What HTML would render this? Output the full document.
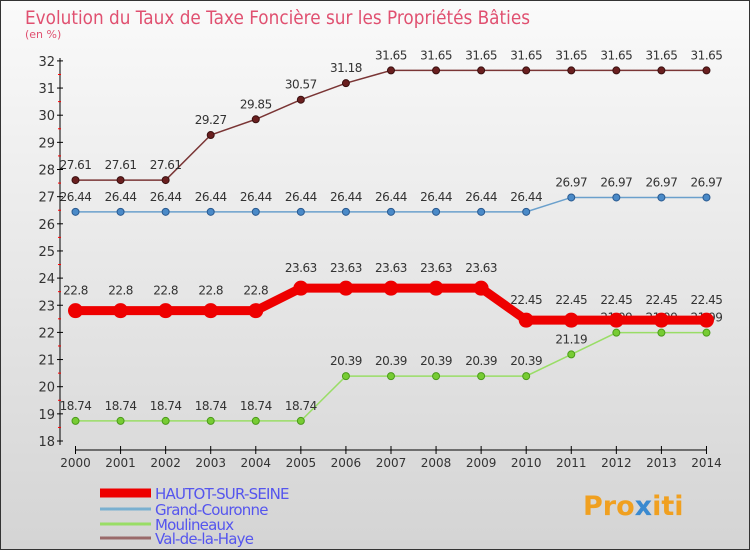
<!DOCTYPE html>
<html><head><meta charset="utf-8"><style>
body{margin:0}
#c{width:750px;height:550px;position:relative;font-family:"DejaVu Sans","Liberation Sans",sans-serif}
</style></head><body>
<div id="c">
<svg id="s" width="750" height="550" xmlns="http://www.w3.org/2000/svg">
<defs><linearGradient id="bg" x1="0" y1="0" x2="0" y2="1"><stop offset="0" stop-color="#fafafa"/><stop offset="1" stop-color="#d4d4d4"/></linearGradient></defs>
<rect x="0.5" y="0.5" width="749" height="549" fill="url(#bg)" stroke="#333" stroke-width="1"/>
<text x="25" y="24" font-size="19" fill="#e05070" font-family="DejaVu Sans, sans-serif" textLength="505" lengthAdjust="spacingAndGlyphs">Evolution du Taux de Taxe Foncière sur les Propriétés Bâties</text>
<text x="25" y="38" font-size="11" fill="#e05070">(en %)</text>
<g id="axes"></g><g id="series"></g><g id="legend"></g>
<text x="583" y="515" font-size="27" font-weight="bold" fill="#f0a020" font-family="DejaVu Sans, sans-serif">Pro<tspan fill="#3a8ad0">x</tspan>iti</text>
</svg></div>
<script>
const years=[2000,2001,2002,2003,2004,2005,2006,2007,2008,2009,2010,2011,2012,2013,2014];
const yTicks=[18,19,20,21,22,23,24,25,26,27,28,29,30,31,32];
const seriesNames=["HAUTOT-SUR-SEINE","Grand-Couronne","Moulineaux","Val-de-la-Haye"];
const hautot=[22.8,22.8,22.8,22.8,22.8,23.63,23.63,23.63,23.63,23.63,22.45,22.45,22.45,22.45,22.45];
const hautotLabels=["22.8","22.8","22.8","22.8","22.8","23.63","23.63","23.63","23.63","23.63","22.45","22.45","22.45","22.45","22.45"];
const grand=[26.44,26.44,26.44,26.44,26.44,26.44,26.44,26.44,26.44,26.44,26.44,26.97,26.97,26.97,26.97];
const moul=[18.74,18.74,18.74,18.74,18.74,18.74,20.39,20.39,20.39,20.39,20.39,21.19,21.99,21.99,21.99];
const valh=[27.61,27.61,27.61,29.27,29.85,30.57,31.18,31.65,31.65,31.65,31.65,31.65,31.65,31.65,31.65];
const NS="http://www.w3.org/2000/svg";
const X=i=>75.5+i*45.07, Y=v=>441-(v-18)*27.15;
function mk(t,a,p){const e=document.createElementNS(NS,t);for(const k in a)e.setAttribute(k,a[k]);p.appendChild(e);return e;}
const ax=document.getElementById('axes');
let e=mk('line',{x1:60,y1:58,x2:60,y2:445,stroke:'#000'},ax);


yTicks.forEach(v=>{mk('line',{x1:57,x2:63,y1:Y(v),y2:Y(v),stroke:'#000'},ax);
 if(v<32)mk('line',{x1:58,x2:61,y1:Y(v+0.5),y2:Y(v+0.5),stroke:'#f00'},ax);
 const t=mk('text',{x:55,y:Y(v)+5,'font-size':13,fill:'#333','text-anchor':'end'},ax);t.textContent=v;
 
 });
e=mk('line',{x1:X(0),y1:450,x2:X(14),y2:450,stroke:'#000'},ax);


years.forEach((y,i)=>{mk('line',{x1:X(i),x2:X(i),y1:446,y2:454,stroke:'#000'},ax);
 const t=mk('text',{x:X(i),y:467,'font-size':12,fill:'#333','text-anchor':'middle'},ax);t.textContent=y;
 
 });
const sg=document.getElementById('series');
function draw(vals,labels,color,w,r,name,ptFill,ptStroke,dy){
 const g=mk('g',{},sg);
 
 
 mk('polyline',{points:vals.map((v,i)=>X(i)+','+Y(v)).join(' '),fill:'none',stroke:color,'stroke-width':w},g);
 vals.forEach((v,i)=>{const c=mk('circle',{cx:X(i),cy:Y(v),r:r,fill:ptFill,stroke:ptStroke},g);
  
  
  const t=mk('text',{x:X(i),y:Y(v)-dy,'font-size':12,fill:'#333','text-anchor':'middle','letter-spacing':'-0.5'},g);
  t.textContent=labels?labels[i]:String(v);
  
  });
}
draw(valh,null,'#7a3535',1.5,3.5,'series-val-de-la-haye','#6a1f1f','#3a1010',11);
draw(grand,null,'#6aa0cc',1.5,3.5,'series-grand-couronne','#4a8ac8','#2a5a90',11);
draw(moul,null,'#99dd66',1.5,3.5,'series-moulineaux','#77cc33','#4a9a1a',11);
draw(hautot,hautotLabels,'#ee0000',9,7,'series-hautot-sur-seine','#ee0000','#ee0000',16);
const lg=document.getElementById('legend');
const lc=['#ee0000','#7ab0d0','#99dd66','#9a6a6a'],lw=[9,3,3,3],ly=[493,509,524,538];
seriesNames.forEach((n,i)=>{const g=mk('g',{},lg);
 
 
 mk('line',{x1:100,x2:151,y1:ly[i],y2:ly[i],stroke:lc[i],'stroke-width':lw[i]},g);
 const t=mk('text',{x:155,y:ly[i]+6,'font-size':15,fill:'#5555ee','letter-spacing':'-0.8'},g);t.textContent=n;});
</script>
</body></html>
